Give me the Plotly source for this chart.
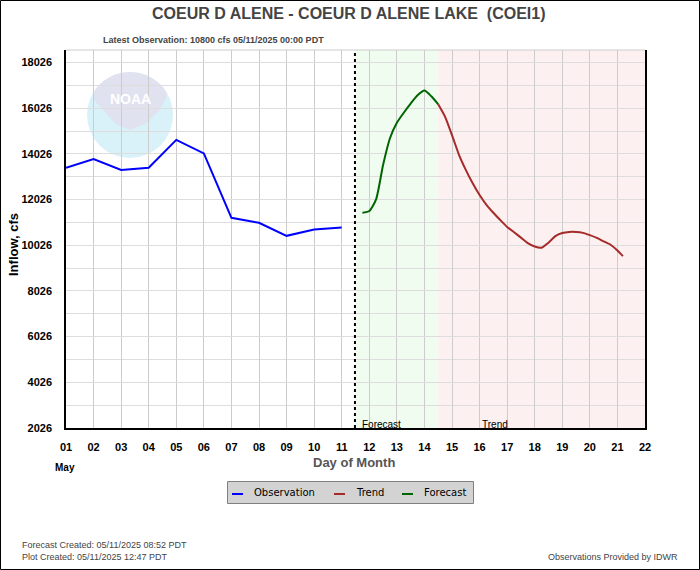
import plotly.graph_objects as go
import math

# ---------------- data ----------------
obs_day = [1, 2, 3, 4, 5, 6, 7, 8, 9, 10, 11]
obs_cfs = [13420, 13800, 13320, 13420, 14640, 14050, 11230, 11010, 10440, 10720, 10800]

fc_day = [11.75, 12.0, 12.25, 12.5, 12.75, 13.0, 13.25, 13.5, 13.75, 14.0, 14.25, 14.5]
fc_cfs = [11450, 11525, 12050, 13540, 14712, 15390, 15830, 16230, 16590, 16800, 16550, 16200]

tr_day = [14.5, 14.75, 15.0, 15.25, 15.5, 15.75, 16.0, 16.25, 16.5, 16.75, 17.0, 17.25,
          17.5, 17.75, 18.0, 18.25, 18.5, 18.75, 19.0, 19.25, 19.5, 19.75, 20.0, 20.25,
          20.5, 20.75, 21.0, 21.2]
tr_cfs = [16200, 15650, 14850, 14000, 13330, 12740, 12230, 11800, 11450, 11130, 10830, 10600,
          10360, 10120, 9970, 9920, 10140, 10430, 10560, 10610, 10610, 10570, 10470, 10350,
          10200, 10050, 9800, 9550]

x_ticks = list(range(1, 23))
x_ticktext = ["%02d" % d for d in x_ticks]
y_ticks = [2026, 4026, 6026, 8026, 10026, 12026, 14026, 16026, 18026]
y_ticktext = [str(v) for v in y_ticks]

series_names = ["Observation", "Trend", "Forecast"]
series_colors = ["#0000ff", "#a52a2a", "#006400"]

now_day = 11.48
fc_end_day = 14.5

# ---------------- layout geometry ----------------
W, H = 700, 570
L, R, T, B = 66, 55, 50, 142
PW, PH = W - L - R, H - T - B

def px(x):
    return (x - L) / PW

def py(y):
    return (H - B - y) / PH

FONT = "Liberation Sans"

fig = go.Figure()
fig.add_trace(go.Scatter(x=obs_day, y=obs_cfs, mode="lines", name=series_names[0],
                         line=dict(color=series_colors[0], width=2)))
fig.add_trace(go.Scatter(x=tr_day, y=tr_cfs, mode="lines", name=series_names[1],
                         line=dict(color=series_colors[1], width=2, shape="spline", smoothing=0.6)))
fig.add_trace(go.Scatter(x=fc_day, y=fc_cfs, mode="lines", name=series_names[2],
                         line=dict(color=series_colors[2], width=2, shape="spline", smoothing=0.6)))

shapes = []
shapes.append(dict(type="rect", xref="x", yref="paper", x0=now_day, x1=fc_end_day, y0=0, y1=1,
                   fillcolor="#effcef", line=dict(width=0), layer="below"))
shapes.append(dict(type="rect", xref="x", yref="paper", x0=fc_end_day, x1=22, y0=0, y1=1,
                   fillcolor="#fdf0f0", line=dict(width=0), layer="below"))
# NOAA logo watermark
shapes.append(dict(type="circle", xref="paper", yref="paper",
                   x0=px(87), x1=px(173), y0=py(158), y1=py(72),
                   fillcolor="#d9f1f8", line=dict(width=0), layer="below"))
pts = []
for a in range(150, 29, -10):
    r = math.radians(a)
    pts.append((130 + 43 * math.cos(r), 115 - 43 * math.sin(r)))
pts += [(165, 100), (158, 112), (145, 124), (130, 130), (116, 124), (103, 110), (94, 100)]
path = "M " + " L ".join("%.4f,%.4f" % (px(x), py(y)) for x, y in pts) + " Z"
shapes.append(dict(type="path", xref="paper", yref="paper", path=path,
                   fillcolor="#e0e2ef", line=dict(width=0), layer="below"))
shapes.append(dict(type="line", xref="x", yref="paper", x0=now_day, x1=now_day, y0=0, y1=1,
                   line=dict(color="black", width=2, dash="dot")))
shapes.append(dict(type="line", xref="paper", yref="paper", x0=0, x1=1, y0=1, y1=1,
                   line=dict(color="#cccccc", width=1)))
shapes.append(dict(type="rect", xref="paper", yref="paper",
                   x0=px(0.5), x1=px(699.5), y0=py(569.5), y1=py(0.5),
                   line=dict(color="black", width=1), fillcolor="rgba(0,0,0,0)"))

ann = []
def add_text(text, x, y, size, color="black", xanchor="center", yanchor="middle", bold=False, family=FONT, angle=0):
    if bold:
        text = "<b>" + text + "</b>"
    ann.append(dict(text=text, xref="paper", yref="paper", x=px(x), y=py(y), showarrow=False,
                    xanchor=xanchor, yanchor=yanchor, textangle=angle,
                    font=dict(size=size, color=color, family=family)))

# legend (drawn manually to match the compact original)
shapes.append(dict(type="rect", xref="paper", yref="paper",
                   x0=px(227.5), x1=px(473.5), y0=py(503.5), y1=py(481.5),
                   fillcolor="#d3d3d3", line=dict(color="#808080", width=1)))
leg_line_x = [232, 334, 402]
leg_text_x = [252, 354, 422]
for name, col, lx, tx in zip(series_names, series_colors, leg_line_x, leg_text_x):
    shapes.append(dict(type="line", xref="paper", yref="paper",
                       x0=px(lx), x1=px(lx + 11), y0=py(494), y1=py(494),
                       line=dict(color=col, width=2)))
    add_text(name, tx, 493, 10, "black", xanchor="left", family="DejaVu Sans")

add_text("COEUR D ALENE - COEUR D ALENE LAKE  (COEI1)", 349, 14, 16, "#444444", bold=True)
add_text("Latest Observation: 10800 cfs 05/11/2025 00:00 PDT", 213, 40, 9, "#444444", bold=True)
add_text("Inflow, cfs", 14, 245, 13, "black", bold=True, angle=-90)
add_text("Day of Month", 354, 462, 13, "#555555", bold=True)
add_text("May", 65, 467, 10, "black", bold=True)
add_text("Forecast", 360, 424, 10, "black", xanchor="left")
add_text("Trend", 480, 424, 10, "black", xanchor="left")
add_text("Forecast Created: 05/11/2025 08:52 PDT", 20, 545, 9, "#444444", xanchor="left")
add_text("Plot Created: 05/11/2025 12:47 PDT", 20, 557, 9, "#444444", xanchor="left")
add_text("Observations Provided by IDWR", 680, 557, 9, "#444444", xanchor="right")
add_text("NOAA", 130, 99, 14, "white", bold=True)

fig.update_layout(
    width=W, height=H,
    margin=dict(l=L, r=R, t=T, b=B, autoexpand=False),
    paper_bgcolor="white", plot_bgcolor="white",
    shapes=shapes, annotations=ann,
    showlegend=False,
    xaxis=dict(range=[1, 22], tickvals=x_ticks, ticktext=x_ticktext, automargin=False,
               showgrid=True, gridcolor="#cccccc", gridwidth=1,
               showline=True, linecolor="black", linewidth=1.5, mirror=False,
               ticks="outside", ticklen=8, tickcolor="rgba(0,0,0,0)",
               tickfont=dict(family=FONT, size=11, color="black", weight="bold"),
               zeroline=False, fixedrange=True),
    yaxis=dict(range=[2026, 18576], tickvals=y_ticks, ticktext=y_ticktext, automargin=False,
               showgrid=True, gridcolor="#dddddd", gridwidth=1,
               minor=dict(tick0=2026, dtick=1000, showgrid=True, gridcolor="#dddddd", gridwidth=1),
               showline=True, linecolor="black", linewidth=1.5, mirror=True,
               ticks="outside", ticklen=10, tickcolor="rgba(0,0,0,0)",
               tickfont=dict(family=FONT, size=11, color="black", weight="bold"),
               zeroline=False, fixedrange=True),
)

fig.write_html("out.html", config={"displayModeBar": False},
               post_script="document.body.style.margin='0px';document.body.style.overflow='hidden';")
